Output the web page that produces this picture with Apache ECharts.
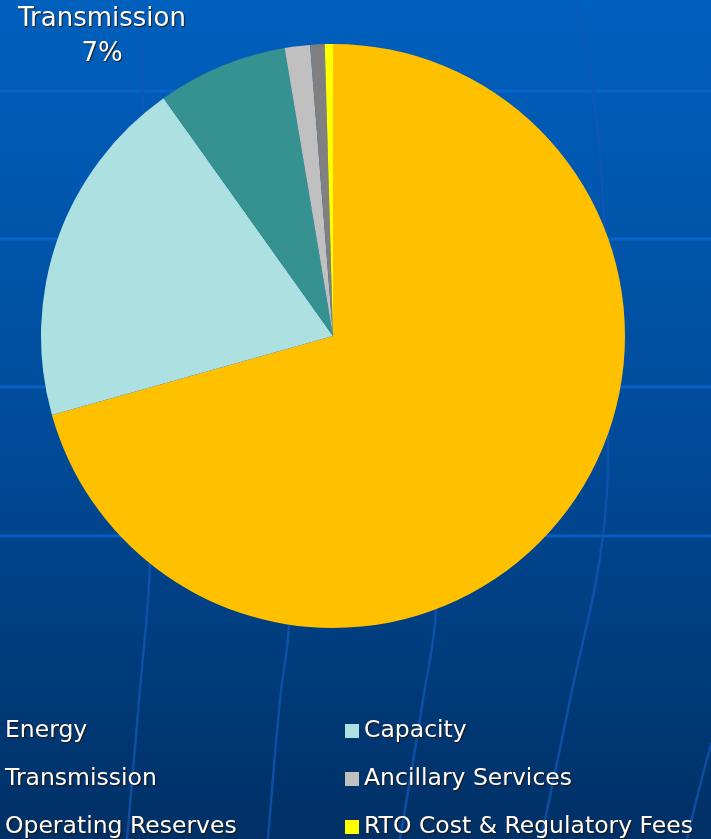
<!DOCTYPE html>
<html>
<head>
<meta charset="utf-8">
<script src="https://cdn.jsdelivr.net/npm/echarts@6/dist/echarts.min.js"></script>
<style>
html, body { margin: 0; padding: 0; }
#main { width: 711px; height: 839px; }
</style>
</head>
<body>
<div id="main"></div>
<script>
// cost components, share of total (%)
var categories = ['Energy', 'Capacity', 'Transmission', 'Ancillary Services', 'Operating Reserves', 'RTO Cost & Regulatory Fees'];
var shares = [70.6, 19.5, 7.2, 1.4, 0.8, 0.45];
var colors = ['#FFC000', '#ADE1E1', '#359290', '#C0C0C0', '#808080', '#FFFF00'];

var leftLegend = ['Energy', 'Transmission', 'Operating Reserves'];
var rightLegend = ['Capacity', 'Ancillary Services', 'RTO Cost & Regulatory Fees'];

var FONT = 'DejaVu Sans';

var chart = echarts.init(document.getElementById('main'));

// globe grid in the background
var gridLines = [];
[91, 239, 387, 536].forEach(function (y) {
    gridLines.push({
        type: 'line',
        shape: { x1: 0, y1: y, x2: 711, y2: y },
        style: { stroke: '#0A66CF', lineWidth: 3, opacity: 0.8 },
        silent: true
    });
});
var meridians = [
    [[138, 0], [143, 91], [149, 300], [150, 560], [139, 700], [127, 839]],
    [[298, 300], [289, 625], [280, 700], [268, 839]],
    [[446, 300], [436, 610], [423, 700], [400, 839]],
    [[575, 0], [593, 91], [605, 238], [608, 386], [603, 535], [570, 700], [541, 839]],
    [[716, 735], [710, 748], [687, 839]]
];
meridians.forEach(function (pts) {
    gridLines.push({
        type: 'polyline',
        shape: { points: pts, smooth: 0.4 },
        style: { stroke: '#1257B5', lineWidth: 2.5, fill: null, opacity: 0.75 },
        silent: true
    });
});

var legendText = {
    color: '#FFFFFF',
    fontFamily: FONT,
    fontSize: 23.5,
    lineHeight: 28,
    textShadowColor: 'rgba(40,20,0,0.9)',
    textShadowOffsetX: 1,
    textShadowOffsetY: 1,
    textShadowBlur: 1
};

var option = {
    animation: false,
    backgroundColor: {
        type: 'linear', x: 0, y: 0, x2: 0, y2: 1,
        colorStops: [
            { offset: 0, color: '#0060BE' },
            { offset: 0.5, color: '#004C9B' },
            { offset: 1, color: '#003065' }
        ]
    },
    color: colors,
    graphic: { elements: gridLines },
    legend: [
        {
            orient: 'vertical',
            left: -14,
            top: 717,
            height: 200,
            padding: 0,
            itemWidth: 14,
            itemHeight: 14,
            itemGap: 20,
            icon: 'rect',
            data: leftLegend,
            textStyle: legendText
        },
        {
            orient: 'vertical',
            left: 345,
            top: 717,
            height: 200,
            padding: 0,
            itemWidth: 14,
            itemHeight: 14,
            itemGap: 20,
            icon: 'rect',
            data: rightLegend,
            textStyle: legendText
        }
    ],
    series: [
        {
            type: 'pie',
            center: [333, 336],
            radius: 292,
            startAngle: 90,
            clockwise: true,
            percentPrecision: 0,
            emphasis: { disabled: true },
            label: { show: false },
            labelLine: { show: false },
            labelLayout: function (params) {
                if (params.dataIndex === 2) {
                    return { x: 102, y: 37, align: 'center', verticalAlign: 'middle' };
                }
            },
            data: categories.map(function (name, i) {
                var item = { name: name, value: shares[i] };
                if (name === 'Transmission') {
                    item.label = {
                        show: true,
                        position: 'outside',
                        formatter: '{b}\n{d}%',
                        color: '#FFFFFF',
                        fontFamily: FONT,
                        fontSize: 26,
                        lineHeight: 35,
                        align: 'center',
                        textShadowColor: 'rgba(40,20,0,0.9)',
                        textShadowOffsetX: 1,
                        textShadowOffsetY: 1,
                        textShadowBlur: 1
                    };
                }
                return item;
            })
        }
    ]
};

chart.setOption(option);
</script>
</body>
</html>
